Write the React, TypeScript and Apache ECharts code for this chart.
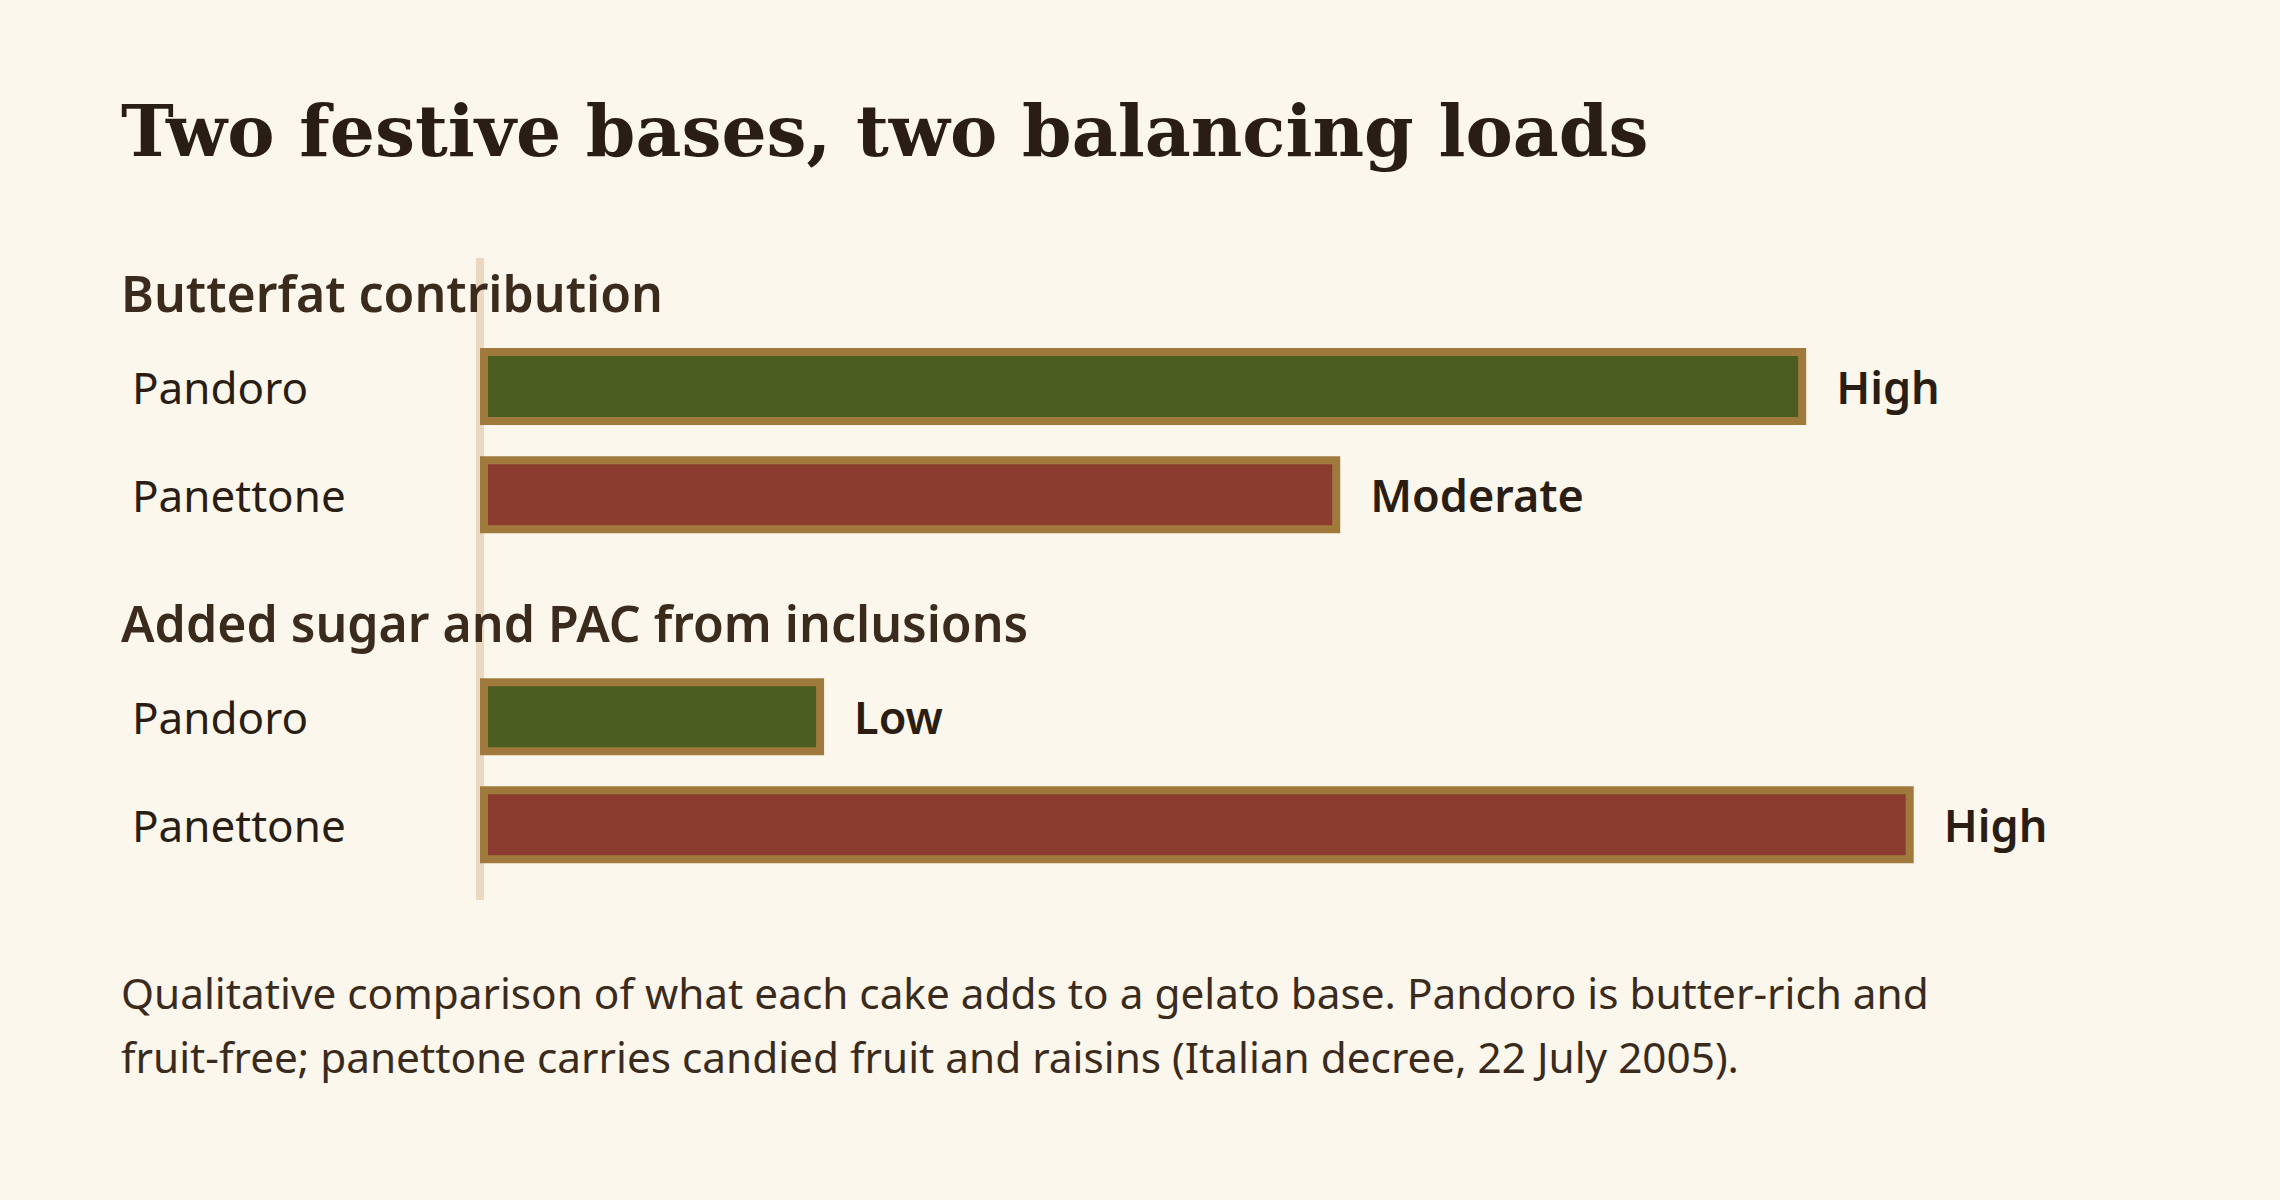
import React, { useEffect, useRef } from "react";
import * as echarts from "echarts";

const titleText = "Two festive bases, two balancing loads";
const sectionTitles = ["Butterfat contribution", "Added sugar and PAC from inclusions"];
const cakes = ["Pandoro", "Panettone"];
const butterfatValues = [92.5, 60];
const butterfatLabels = ["High", "Moderate"];
const sugarValues = [24, 100];
const sugarLabels = ["Low", "High"];
const footnoteLines = [
  "Qualitative comparison of what each cake adds to a gelato base. Pandoro is butter-rich and",
  "fruit-free; panettone carries candied fruit and raisins (Italian decree, 22 July 2005).",
];

const BG = "#FCF7EC";
const INK = "#2A1E14";
const INK2 = "#3A2B1D";
const GREEN = "#4B5D20";
const RED = "#8B3C2F";
const BORDER = "#A07A3C";
const AXIS = "#EAD9C0";
const SANS = "'Noto Sans', 'Open Sans', sans-serif";

export default function App() {
  const ref = useRef<HTMLDivElement>(null);
  useEffect(() => {
    if (!ref.current) return;
    const chart = echarts.init(ref.current, undefined, { renderer: "svg" });
    const gridLeft = 480;
    const gridRight = 366.3;
    const grids = [
      { left: gridLeft, right: gridRight, top: 332.4, height: 216.6 },
      { left: gridLeft, right: gridRight, top: 662.8, height: 216 },
    ];
    const makeX = (gi: number) => ({
      type: "value",
      gridIndex: gi,
      min: 0,
      max: 100,
      show: false,
    });
    const makeY = (gi: number) => ({
      type: "category",
      gridIndex: gi,
      data: cakes,
      inverse: true,
      axisLine: { show: false },
      axisTick: { show: false },
      axisLabel: {
        align: "left",
        margin: gridLeft - 132,
        fontFamily: SANS,
        fontSize: 44,
        color: INK,
      },
    });
    const makeSeries = (gi: number, values: number[], labels: string[]) => ({
      type: "bar",
      xAxisIndex: gi,
      yAxisIndex: gi,
      barWidth: 77,
      data: values.map((v, i) => ({
        value: v,
        itemStyle: { color: i === 0 ? GREEN : RED },
      })),
      itemStyle: { borderColor: BORDER, borderWidth: 8 },
      label: {
        show: true,
        position: "right",
        distance: 30,
        formatter: (p: any) => labels[p.dataIndex],
        fontFamily: SANS,
        fontSize: 45,
        fontWeight: 600,
        color: INK,
      },
      z: 3,
    });
    chart.setOption({
      animation: false,
      backgroundColor: BG,
      grid: grids,
      xAxis: [makeX(0), makeX(1)],
      yAxis: [makeY(0), makeY(1)],
      series: [
        makeSeries(0, butterfatValues, butterfatLabels),
        makeSeries(1, sugarValues, sugarLabels),
      ],
      graphic: [
        {
          type: "line",
          z: 0,
          shape: { x1: gridLeft, y1: 258, x2: gridLeft, y2: 900 },
          style: { stroke: AXIS, lineWidth: 8 },
        },
        {
          type: "text",
          z: 10,
          x: 121,
          y: 131,
          style: {
            text: titleText,
            font: "bold 71px 'DejaVu Serif', 'Liberation Serif', serif",
            fill: INK,
            verticalAlign: "middle",
          },
        },
        {
          type: "text",
          z: 10,
          x: 121,
          y: 293,
          style: {
            text: sectionTitles[0],
            font: `600 50px ${SANS}`,
            fill: INK2,
            verticalAlign: "middle",
          },
        },
        {
          type: "text",
          z: 10,
          x: 121,
          y: 623,
          style: {
            text: sectionTitles[1],
            font: `600 50px ${SANS}`,
            fill: INK2,
            verticalAlign: "middle",
          },
        },
        {
          type: "text",
          z: 10,
          x: 121,
          y: 992,
          style: {
            text: footnoteLines[0],
            font: `42.3px ${SANS}`,
            fill: INK2,
            verticalAlign: "middle",
          },
        },
        {
          type: "text",
          z: 10,
          x: 121,
          y: 1056,
          style: {
            text: footnoteLines[1],
            font: `42.3px ${SANS}`,
            fill: INK2,
            verticalAlign: "middle",
          },
        },
      ],
    });
    return () => chart.dispose();
  }, []);
  return (
    <div
      ref={ref}
      style={{ position: "fixed", left: 0, top: 0, width: 2280, height: 1200, background: BG }}
    />
  );
}
